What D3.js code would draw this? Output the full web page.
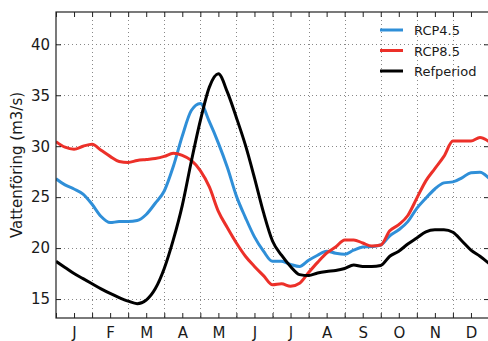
<!DOCTYPE html>
<html>
<head>
<meta charset="utf-8">
<script src="https://cdn.jsdelivr.net/npm/d3@7"></script>
<style>
  body { margin: 0; background: #fff; }
  text { font-family: "DejaVu Sans", sans-serif; fill: #1a1a1a; }
</style>
</head>
<body>
<div id="container"></div>
<script>
const w = 488;
const h = 341;
const margin = {left: 56, right: -1, top: 12, bottom: 23};

// month labels, sample positions (month units, 0..12)
const months = ["J", "F", "M", "A", "M", "J", "J", "A", "S", "O", "N", "D"];
const yTicks = [15, 20, 25, 30, 35, 40];
const pos = d3.range(0, 12.001, 0.25);

const rcp45 = [26.8, 26.2, 25.8, 25.3, 24.3, 23.1, 22.5, 22.6, 22.6, 22.7, 23.3, 24.4,
  25.6, 28.0, 31.0, 33.5, 34.2, 32.4, 30.3, 27.9, 25.1, 23.0, 21.1, 19.7,
  18.7, 18.7, 18.4, 18.2, 18.8, 19.3, 19.7, 19.5, 19.4, 19.8, 20.1, 20.15,
  20.3, 21.2, 21.8, 22.6, 23.9, 24.9, 25.8, 26.4, 26.5, 26.9, 27.4, 27.45, 26.85];
const rcp85 = [30.45, 29.9, 29.7, 30.0, 30.2, 29.6, 29.0, 28.5, 28.4, 28.6, 28.7, 28.8,
  29.0, 29.3, 29.1, 28.6, 27.6, 26.0, 23.6, 22.0, 20.5, 19.2, 18.2, 17.3,
  16.4, 16.5, 16.25, 16.55, 17.6, 18.6, 19.5, 20.1, 20.8, 20.8, 20.5, 20.2,
  20.3, 21.7, 22.3, 23.2, 24.9, 26.6, 27.8, 29.0, 30.5, 30.5, 30.5, 30.85, 30.45];
const refperiod = [18.7, 18.1, 17.5, 17.0, 16.5, 16.0, 15.55, 15.15, 14.8, 14.55, 14.9, 16.0,
  18.0, 20.8, 24.2, 28.5, 32.5, 35.8, 37.1, 35.3, 32.8, 30.1, 26.9, 23.5,
  20.7, 19.3, 18.2, 17.4, 17.3, 17.55, 17.7, 17.8, 18.0, 18.35, 18.2, 18.2,
  18.3, 19.2, 19.7, 20.4, 21.0, 21.6, 21.8, 21.8, 21.55, 20.7, 19.8, 19.2, 18.5];

const series = [
  {name: "RCP4.5", values: rcp45, color: "#2f8fd8"},
  {name: "RCP8.5", values: rcp85, color: "#ec3029"},
  {name: "Refperiod", values: refperiod, color: "#000000"}
];

const svg = d3.select("#container").append("svg")
  .attr("width", w).attr("height", h);

const x = d3.scaleLinear().domain([0, 12]).range([margin.left, w - margin.right]);
const y = d3.scaleLinear().domain([13.14, 43.17]).range([h - margin.bottom, margin.top]);

const x0 = x.range()[0], x1 = x.range()[1];
const y0 = y.range()[0], y1 = y.range()[1];

// dotted grid
const grid = svg.append("g").attr("stroke", "#888").attr("stroke-width", 1)
  .attr("stroke-dasharray", "1,3");
grid.selectAll("line.vx").data(d3.range(1, 12)).enter().append("line")
  .attr("x1", d => Math.round(x(d)) + 0.5).attr("x2", d => Math.round(x(d)) + 0.5)
  .attr("y1", y1).attr("y2", y0);
grid.selectAll("line.hy").data(yTicks).enter().append("line")
  .attr("y1", d => Math.round(y(d)) + 0.5).attr("y2", d => Math.round(y(d)) + 0.5)
  .attr("x1", x0).attr("x2", x1);

// clip
svg.append("clipPath").attr("id", "clip").append("rect")
  .attr("x", x0).attr("y", y1).attr("width", x1 - x0).attr("height", y0 - y1);

const line = d3.line()
  .x((d, i) => x(pos[i]))
  .y(d => y(d))
  .curve(d3.curveMonotoneX);

svg.append("g").attr("clip-path", "url(#clip)")
  .selectAll("path").data(series).enter().append("path")
  .attr("d", d => line(d.values))
  .attr("fill", "none")
  .attr("stroke", d => d.color)
  .attr("stroke-width", 3)
  .attr("stroke-linejoin", "round");

// axes (inward ticks all round)
const xAxis = d3.axisBottom(x).tickValues(d3.range(0, 12.001, 0.5))
  .tickSize(-5).tickFormat((d) => (d % 1 === 0.5 ? months[Math.floor(d)] : ""))
  .tickPadding(9);
const xg = svg.append("g").attr("transform", "translate(0," + y0 + ")").call(xAxis);
xg.selectAll("text").attr("font-size", 15);

const xTop = d3.axisTop(x).tickValues(d3.range(0, 12.001, 0.5)).tickSize(-5).tickFormat("");
svg.append("g").attr("transform", "translate(0," + y1 + ")").call(xTop);

const yAxis = d3.axisLeft(y).tickValues(yTicks).tickSize(-5).tickPadding(6);
const yg = svg.append("g").attr("transform", "translate(" + x0 + ",0)").call(yAxis);
yg.selectAll("text").attr("font-size", 15);

const yRight = d3.axisRight(y).tickValues(yTicks).tickSize(-5).tickFormat("");
svg.append("g").attr("transform", "translate(" + x1 + ",0)").call(yRight);

svg.selectAll(".domain").attr("stroke", "none");
svg.selectAll(".tick line").attr("stroke", "#222");

// frame
svg.append("rect")
  .attr("x", x0).attr("y", y1).attr("width", x1 - x0).attr("height", y0 - y1)
  .attr("fill", "none").attr("stroke", "#222").attr("stroke-width", 1.2);

// y label
svg.append("text")
  .attr("transform", "translate(22," + ((y0 + y1) / 2) + ") rotate(-90)")
  .attr("text-anchor", "middle")
  .attr("font-size", 15)
  .text("Vattenföring (m3/s)");

// legend
const legend = svg.append("g").attr("transform", "translate(380,30)");
const items = legend.selectAll("g").data(series).enter().append("g")
  .attr("transform", (d, i) => "translate(0," + i * 20.5 + ")");
items.append("line").attr("x1", 0).attr("x2", 23).attr("y1", 0).attr("y2", 0)
  .attr("stroke", d => d.color).attr("stroke-width", 3);
items.append("text").attr("x", 34).attr("y", 5).attr("font-size", 13).text(d => d.name);
</script>
</body>
</html>
